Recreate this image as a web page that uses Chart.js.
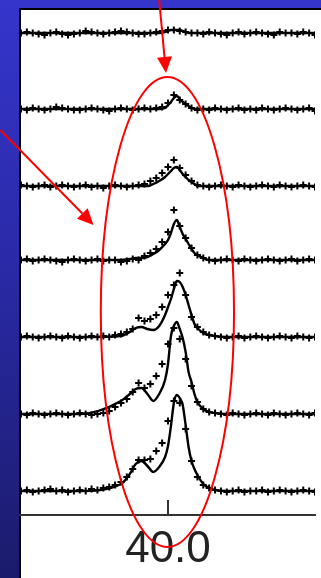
<!DOCTYPE html>
<html>
<head>
<meta charset="utf-8">
<script src="https://cdn.jsdelivr.net/npm/chart.js@4/dist/chart.umd.min.js"></script>
<style>
html,body{margin:0;padding:0;}
body{width:321px;height:578px;overflow:hidden;position:relative;background:linear-gradient(to bottom,#3535cc 0%,#2a2aa8 45%,#1b1b6c 100%);}
#panel{position:absolute;left:19px;top:8px;width:302px;height:570px;box-sizing:border-box;border-left:2px solid #000;border-top:2px solid #000;background:#fff;}
#c{position:absolute;left:0;top:0;}
</style>
</head>
<body>
<div id="panel"></div>
<canvas id="c" width="321" height="578"></canvas>
<script>
// ---- data ----
const xTickValues = [40.0];
const offsets = [482, 406, 329, 255, 178, 101, 24];

// measured points (x positions shared)
const pointX = [37.5,37.6,37.7,37.8,37.9,38.0,38.1,38.2,38.3,38.4,38.5,38.6,38.7,38.8,38.9,39.0,39.1,39.2,39.3,39.4,39.5,39.6,39.7,39.8,39.9,40.0,40.1,40.2,40.3,40.4,40.5,40.6,40.7,40.8,40.9,41.0,41.1,41.2,41.3,41.4,41.5,41.6,41.7,41.8,41.9,42.0,42.1,42.2,42.3,42.4,42.5];
const pts1 = [0,1,0,-1,-2,0,1,-1,-2,-1, 0,2,1,0,-1,0,1,2,1,0, -1,-1,0,1,2,3,3,2,1,0, 0,-1,1,0,-1,-2,0,1,-1,0, 1,0,-1,-2,1,0,0,-1,1,0,-2];
const pts2 = [0,-1,1,0,-1,0,2,1,0,-1, -1,0,1,0,-1,-2,0,1,0,-1, 0,1,0,1,2,6,14,9,5,1, -1,0,-1,1,0,-1,0,1,-1,0, -1,1,0,-1,0,1,0,-1,0,1,-2];
const pts3 = [1,0,-1,0,1,-1,0,1,0,-1, 0,1,-1,0,-2,0,1,0,-1,0, 1,2,5,8,13,19,26,18,11,5, 1,0,-1,0,1,0,-1,1,0,-1, 0,1,0,-1,1,0,-1,0,1,0,-1];
const pts4 = [0,1,-1,0,1,0,-1,-2,0,1, 0,-1,0,1,-1,0,0,-2,-1,1, 0,4,7,11,18,28,50,34,22,12, 5,2,0,-1,0,1,0,-1,1,0, -1,0,1,0,-1,0,1,-1,0,1,0];
const pts5 = [0,1,0,-1,0,1,0,-1,1,0, -1,0,1,0,1,0,2,3,5,8, 19,16,18,22,30,42,52,64,42,20, 10,5,2,1,0,-1,0,1,-1,0, 1,0,-1,0,1,0,-1,1,0,-1,0];
const pts6 = [0,-1,1,0,-1,0,1,0,-1,0, 1,0,-1,0,1,3,7,11,15,22, 31,26,30,38,50,70,86,75,55,28, 12,5,2,1,0,-1,1,0,-1,0, 1,0,-1,1,0,-1,0,1,0,-1,1];
const pts7 = [0,1,-1,0,1,2,0,1,-1,0, 1,0,2,1,3,4,6,9,14,22, 31,31,32,40,48,70,90,88,62,30, 14,6,3,1,0,-1,0,1,-1,0, 0,1,-1,0,1,0,-1,0,1,0,-1];

// fitted curves
const fitX = [37.5,38.5,39.2,39.35,39.45,39.55,39.65,39.75,39.85,39.95,40.0,40.05,40.1,40.15,40.2,40.25,40.3,40.35,40.4,40.45,40.5,40.6,40.7,40.8,41.0,41.5,42.5];
const fit1 = [0,0,0,0,0,0,0,0,0,1,2,3,3,3,3,2,1,0,0,0,0,0,0,0,0,0,0];
const fit2 = [0,0,0,0,0,0,0,0,0,1,4,7,11,13,10,7,5,3,1,0,0,0,0,0,0,0,0];
const fit3 = [0,0,0,0,0,0,0,2,5,9,12,15,18,19,16,12,9,6,4,2,0,0,0,0,0,0,0];
const fit4 = [0,0,0,1,2,2,3,6,10,16,20,27,36,40,33,26,21,16,11,7,5,2,0,0,0,0,0];
const fit5 = [0,0,1,5,9,10,8,7,11,22,30,38,48,56,55,50,42,32,22,13,9,4,2,1,0,0,0];
const fit6 = [0,0,13,20,25,26,20,13,20,34,50,78,88,92,85,76,62,42,32,20,12,5,2,1,0,0,0];
const fit7 = [0,0,7,17,27,30,25,19,24,34,45,65,88,96,93,86,66,44,30,22,16,7,3,1,0,0,0];

const pointSeries = [pts1, pts2, pts3, pts4, pts5, pts6, pts7];
const fitSeries = [fit1, fit2, fit3, fit4, fit5, fit6, fit7];

// annotation positions (data units)
const ellipseAnn = {cx: 39.99, cy: 203, rx: 1.133, ry: 235};
const arrowAnns = [
  {x0: 39.85, y0: 515, x1: 39.966, y1: 442},
  {x0: 37.15, y0: 385, x1: 38.733, y1: 290}
];

// ---- chart ----
const datasets = [];
for (let i = 0; i < pointSeries.length; i++) {
  datasets.push({
    data: fitX.map((x, j) => ({x: x, y: offsets[i] + fitSeries[i][j]})),
    showLine: true, borderColor: '#000', borderWidth: 2.4, pointRadius: 0,
    cubicInterpolationMode: 'monotone', fill: false
  });
  datasets.push({
    data: pointX.map((x, j) => ({x: x, y: offsets[i] + pointSeries[i][j]})),
    showLine: false, pointStyle: 'cross', pointRadius: 3.5,
    pointBorderWidth: 2, pointBorderColor: '#000', borderColor: '#000', backgroundColor: '#000'
  });
}

const annotPlugin = {
  id: 'annot',
  afterDraw(chart) {
    const c = chart.ctx, xs = chart.scales.x, ys = chart.scales.y;
    // tick mark
    const tx = xs.getPixelForValue(xTickValues[0]);
    c.save();
    c.strokeStyle = '#333'; c.lineWidth = 2;
    c.beginPath(); c.moveTo(tx, chart.chartArea.bottom - 15); c.lineTo(tx, chart.chartArea.bottom); c.stroke();
    // ellipse
    c.strokeStyle = '#ff0000'; c.fillStyle = '#ff0000'; c.lineWidth = 2;
    const ex = xs.getPixelForValue(ellipseAnn.cx), ey = ys.getPixelForValue(ellipseAnn.cy);
    const erx = Math.abs(xs.getPixelForValue(ellipseAnn.cx + ellipseAnn.rx) - ex);
    const ery = Math.abs(ys.getPixelForValue(ellipseAnn.cy + ellipseAnn.ry) - ey);
    c.beginPath(); c.ellipse(ex, ey, erx, ery, 0, 0, Math.PI * 2); c.stroke();
    // arrows
    arrowAnns.forEach(a => {
      const x0 = xs.getPixelForValue(a.x0), y0 = ys.getPixelForValue(a.y0);
      const x1 = xs.getPixelForValue(a.x1), y1 = ys.getPixelForValue(a.y1);
      const ang = Math.atan2(y1 - y0, x1 - x0), L = 16, W = 7.5;
      const bx = x1 - L * Math.cos(ang), by = y1 - L * Math.sin(ang);
      c.beginPath(); c.moveTo(x0, y0); c.lineTo(bx, by); c.stroke();
      c.beginPath(); c.moveTo(x1, y1);
      c.lineTo(bx + W * Math.sin(ang), by - W * Math.cos(ang));
      c.lineTo(bx - W * Math.sin(ang), by + W * Math.cos(ang));
      c.closePath(); c.fill();
    });
    c.restore();
  }
};

new Chart(document.getElementById('c'), {
  type: 'scatter',
  data: {datasets},
  plugins: [annotPlugin],
  options: {
    responsive: false, animation: false, devicePixelRatio: 1,
    layout: {padding: {left: 20, top: 9, right: 0, bottom: 7}},
    plugins: {legend: {display: false}, tooltip: {enabled: false}},
    scales: {
      x: {
        type: 'linear', min: 37.483, max: 42.5,
        afterBuildTicks: s => { s.ticks = xTickValues.map(v => ({value: v})); },
        afterFit: s => { s.height = 56; },
        grid: {display: false, drawTicks: false},
        border: {display: true, color: '#333', width: 2},
        ticks: {font: {family: 'Liberation Sans', size: 44}, color: '#222', padding: 8,
                maxRotation: 0, autoSkip: false, callback: v => Number(v).toFixed(1)}
      },
      y: {display: false, min: 0, max: 506}
    }
  }
});
</script>
</body>
</html>
